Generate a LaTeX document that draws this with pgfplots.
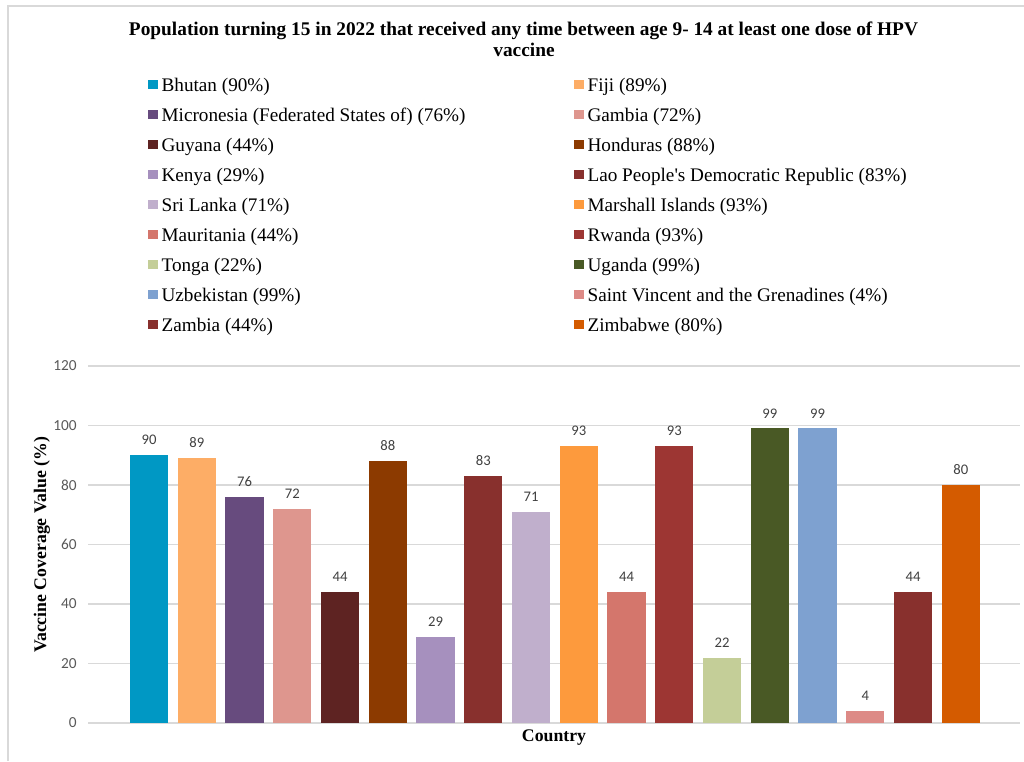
\documentclass[border=0pt]{standalone}
\usepackage{fontspec}
\setmainfont{Liberation Serif}
\newfontfamily\carlito{Carlito}
\usepackage{pgfplots}
\pgfplotsset{compat=1.18}

% bar colours, one per country
\definecolor{cBhutan}{RGB}{0,152,196}
\definecolor{cFiji}{RGB}{253,173,102}
\definecolor{cMicronesia}{RGB}{103,75,126}
\definecolor{cGambia}{RGB}{222,150,142}
\definecolor{cGuyana}{RGB}{94,35,34}
\definecolor{cHonduras}{RGB}{140,58,0}
\definecolor{cKenya}{RGB}{166,144,190}
\definecolor{cLao}{RGB}{136,48,45}
\definecolor{cSriLanka}{RGB}{192,175,204}
\definecolor{cMarshall}{RGB}{253,154,61}
\definecolor{cMauritania}{RGB}{212,118,108}
\definecolor{cRwanda}{RGB}{157,54,51}
\definecolor{cTonga}{RGB}{196,206,152}
\definecolor{cUganda}{RGB}{73,89,37}
\definecolor{cUzbekistan}{RGB}{126,161,208}
\definecolor{cSVG}{RGB}{221,138,134}
\definecolor{cZambia}{RGB}{136,48,45}
\definecolor{cZimbabwe}{RGB}{212,91,0}
\definecolor{gridgray}{RGB}{217,217,217}
\definecolor{ticktext}{RGB}{89,89,89}
\definecolor{labeltext}{RGB}{64,64,64}

\pgfplotsset{
  cbar/.style={
    ybar, bar shift=0pt, bar width=0.8,
    fill=#1, draw=none,
    legend image code/.code={\fill[fill=#1] (0pt,-1.75pt) rectangle (7pt,5.25pt);}
  }
}
\newcommand{\lent}[1]{\makebox[306.5pt][l]{#1}}

\begin{document}
\begin{tikzpicture}
\useasboundingbox (0,0) rectangle (768pt,570.75pt);

\begin{scope}[x=0.75pt,y=-0.75pt,yshift=570.75pt]
  % outer frame
  \draw[gridgray, line width=0.9pt] (8,761) -- (8,6) -- (1024,6);
  % title
  \node[anchor=base, font=\fontsize{14.5}{16}\selectfont\bfseries] at (523.5,35.7)
    {Population turning 15 in 2022 that received any time between age 9- 14 at least one dose of HPV};
  \node[anchor=base, font=\fontsize{14.5}{16}\selectfont\bfseries] at (524,56.7) {vaccine};
  % axis titles
  \node[rotate=90, font=\fontsize{13.3}{15}\selectfont\bfseries] at (42,545) {Vaccine Coverage Value (\%)};
  \node[font=\fontsize{13.3}{15}\selectfont\bfseries] at (554,738) {Country};
\end{scope}

\begin{axis}[
  at={(66pt,28.5pt)}, anchor=south west,
  scale only axis, width=699pt, height=267.75pt,
  xmin=-1.2775, xmax=18.24, ymin=0, ymax=120,
  enlargelimits=false,
  xtick=\empty,
  ytick={0,20,...,120},
  ymajorgrids, grid style={gridgray, line width=0.9pt},
  axis line style={draw=none},
  major tick length=0pt,
  /pgf/number format/assume math mode=true,
  yticklabel style={font=\carlito\fontsize{11.5}{13}\selectfont, text=ticktext,
    anchor=east, inner sep=0pt, xshift=-8.25pt},
  nodes near coords,
  nodes near coords style={font=\carlito\fontsize{11}{13}\selectfont, text=labeltext,
    anchor=south, inner sep=0pt, yshift=7.5pt},
  legend columns=2,
  legend cell align=left,
  legend style={draw=none, fill=none, inner sep=0pt,
    at={(axis description cs:0.06438,1.8077)}, anchor=north west,
    column sep=3pt, row sep=9.5pt,
    font=\fontsize{14.4}{16}\selectfont,
    nodes={inner sep=0pt, text height=10pt, text depth=3pt}},
]
\addplot[cbar=cBhutan]      coordinates {(0,90)};
\addplot[cbar=cFiji]        coordinates {(1,89)};
\addplot[cbar=cMicronesia]  coordinates {(2,76)};
\addplot[cbar=cGambia]      coordinates {(3,72)};
\addplot[cbar=cGuyana]      coordinates {(4,44)};
\addplot[cbar=cHonduras]    coordinates {(5,88)};
\addplot[cbar=cKenya]       coordinates {(6,29)};
\addplot[cbar=cLao]         coordinates {(7,83)};
\addplot[cbar=cSriLanka]    coordinates {(8,71)};
\addplot[cbar=cMarshall]    coordinates {(9,93)};
\addplot[cbar=cMauritania]  coordinates {(10,44)};
\addplot[cbar=cRwanda]      coordinates {(11,93)};
\addplot[cbar=cTonga]       coordinates {(12,22)};
\addplot[cbar=cUganda]      coordinates {(13,99)};
\addplot[cbar=cUzbekistan]  coordinates {(14,99)};
\addplot[cbar=cSVG]         coordinates {(15,4)};
\addplot[cbar=cZambia]      coordinates {(16,44)};
\addplot[cbar=cZimbabwe]    coordinates {(17,80)};
\legend{
  \lent{Bhutan (90\%)},
  \lent{Fiji (89\%)},
  \lent{Micronesia (Federated States of) (76\%)},
  \lent{Gambia (72\%)},
  \lent{Guyana (44\%)},
  \lent{Honduras (88\%)},
  \lent{Kenya (29\%)},
  \lent{Lao People\textquotesingle s Democratic Republic (83\%)},
  \lent{Sri Lanka (71\%)},
  \lent{Marshall Islands (93\%)},
  \lent{Mauritania (44\%)},
  \lent{Rwanda (93\%)},
  \lent{Tonga (22\%)},
  \lent{Uganda (99\%)},
  \lent{Uzbekistan (99\%)},
  \lent{Saint Vincent and the Grenadines (4\%)},
  \lent{Zambia (44\%)},
  \lent{Zimbabwe (80\%)}}
\end{axis}
\end{tikzpicture}
\end{document}
